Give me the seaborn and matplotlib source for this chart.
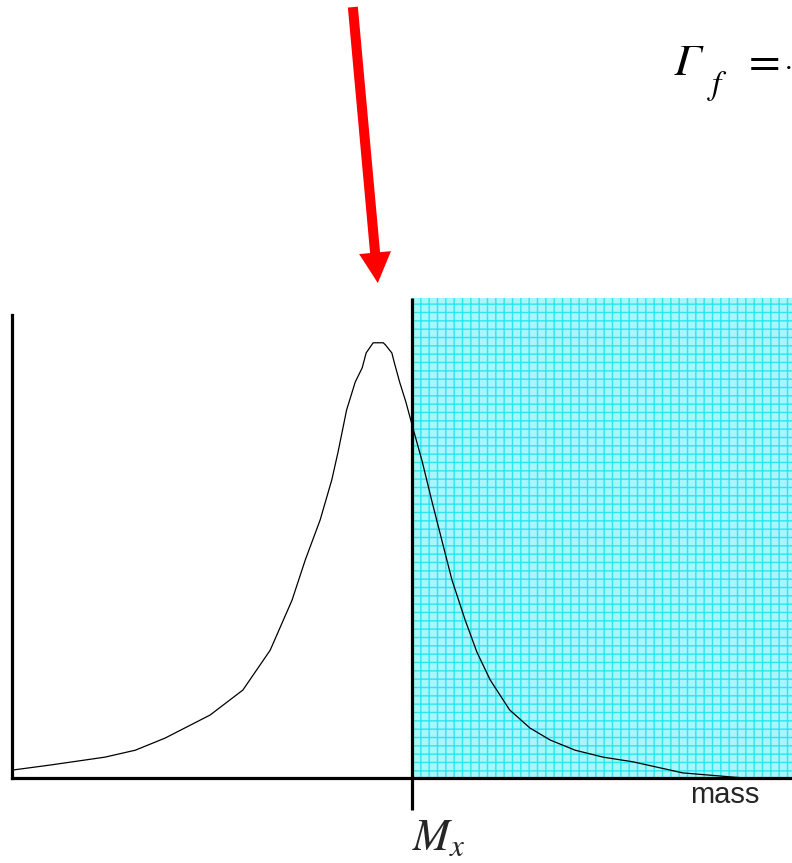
import numpy as np
import pandas as pd
import matplotlib
matplotlib.use("Agg")
import matplotlib.pyplot as plt
from matplotlib.patches import Rectangle
import seaborn as sns

# Resonance line shape: mass (arbitrary units) vs. relative intensity
mass = [0.0, 4.9, 11.9, 15.8, 19.6, 25.4, 29.6, 33.1, 35.9, 37.6, 39.5, 41.0,
        41.8, 42.9, 44.0, 44.9, 45.4, 46.3, 47.6, 47.9, 48.7, 49.0, 49.7, 50.5,
        51.3, 52.6, 53.8, 55.1, 56.4, 58.1, 59.6, 61.3, 63.8, 66.4, 69.0, 72.2,
        75.8, 79.6, 86.0, 92.4, 94.0]
intensity = [0.017, 0.028, 0.045, 0.060, 0.086, 0.136, 0.190, 0.276, 0.384,
             0.471, 0.557, 0.644, 0.704, 0.795, 0.855, 0.886, 0.918, 0.940,
             0.940, 0.935, 0.918, 0.898, 0.855, 0.812, 0.762, 0.683, 0.600,
             0.514, 0.428, 0.341, 0.272, 0.212, 0.147, 0.108, 0.082, 0.060,
             0.045, 0.035, 0.011, 0.002, 0.0]

# Threshold mass M_x and the peak marker arrow
m_x = 51.3
arrow_tail = (43.7, 1.665)
arrow_tip = (46.9, 1.069)

x_label = "mass"
threshold_label = r"$M_x$"

sns.set_style("white")
plt.rcParams["mathtext.fontset"] = "stix"
plt.rcParams["hatch.linewidth"] = 1.0

W, H = 792, 863
fig = plt.figure(figsize=(W / 100, H / 100), dpi=100)
ax = fig.add_axes([12 / W, 85 / H, 780 / W, 463 / H])
ax.set_xlim(0, 100)
ax.set_ylim(0, 1)

# shaded region above the threshold
ax.add_patch(Rectangle((m_x, 0), 100 - m_x, 1.037,
                       transform=ax.get_xaxis_transform(),
                       facecolor="#a8f6fb", edgecolor="#2ae6f0",
                       hatch="++", lw=0, clip_on=False, zorder=1))

df = pd.DataFrame({"mass": mass, "intensity": intensity})
sns.lineplot(data=df, x="mass", y="intensity", color="black", lw=0.9,
             ax=ax, zorder=3)
ax.set_xlabel("")
ax.set_ylabel("")

# threshold line
ax.vlines(m_x, -0.069, 1.037, transform=ax.get_xaxis_transform(),
          color="black", lw=2.3, clip_on=False, zorder=4)

for s in ("top", "right"):
    ax.spines[s].set_visible(False)
for s in ("left", "bottom"):
    ax.spines[s].set_linewidth(2.3)
    ax.spines[s].set_color("black")
    ax.spines[s].set_zorder(5)
ax.set_xticks([])
ax.set_yticks([])
ax.grid(False)
ax.patch.set_alpha(0)

# arrow pointing at the peak
ax.annotate("", xy=arrow_tip, xytext=arrow_tail, xycoords="data",
            annotation_clip=False,
            arrowprops=dict(arrowstyle="simple,head_length=1.1,head_width=1.15,tail_width=0.36",
                            mutation_scale=20, color="#ff0000", lw=0,
                            shrinkA=0, shrinkB=0))

fig.text(690 / W, (H - 803) / H, x_label, family="Liberation Sans",
         fontsize=21, va="baseline", ha="left")
fig.text(412 / W, (H - 850) / H, threshold_label, fontsize=32,
         va="baseline", ha="left")

# width formula: italic capital gamma with subscript f
serif = "STIXGeneral"
fig.text(674 / W, (H - 75) / H, "Γ", family=serif, style="italic",
         fontsize=33, va="baseline", ha="left", color="black")
fig.text(712 / W, (H - 94) / H, "f", family=serif, style="italic",
         fontsize=24, va="baseline", ha="left", color="black")
fig.text(749 / W, (H - 75) / H, "=", family=serif,
         fontsize=33, va="baseline", ha="left", color="black")
fig.text(785 / W, (H - 75) / H, "·", family=serif,
         fontsize=22, va="baseline", ha="left", color="black")

fig.savefig("out.png", dpi=100)
